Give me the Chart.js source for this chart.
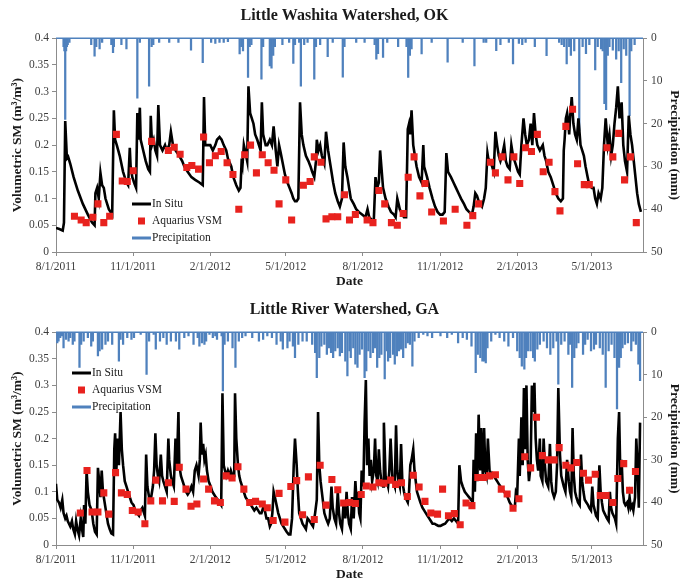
<!DOCTYPE html>
<html lang="en">
<head>
  <meta charset="UTF-8">
  <title>Aquarius VSM vs In Situ</title>
  <script src="https://cdn.jsdelivr.net/npm/chart.js"></script>
  <style>
    body { margin: 0; background: #fff; overflow: hidden; }
    .panel { position: absolute; left: 0; width: 689px; }
    #top { top: 0; height: 290px; }
    #bottom { top: 290px; height: 295px; }
  </style>
</head>
<body>

<div class="panel" id="top"><canvas id="chartTop" width="689" height="290"></canvas></div>
<div class="panel" id="bottom"><canvas id="chartBottom" width="689" height="295"></canvas></div>

<script>
// x values are days since 8/1/2011
const tickDays = [0, 92, 184, 274, 366, 458, 550, 639];
const tickLabels = ["8/1/2011", "11/1/2011", "2/1/2012", "5/1/2012", "8/1/2012", "11/1/2012", "2/1/2013", "5/1/2013"];
const lastDay = 700;

// Little Washita, OK
const washitaInSitu = [[0,.045],[4,.043],[8,.04],[9.5,.055],[11,.245],[13,.175],[14.5,.178],[17,.165],[21,.14],[26,.115],[32,.09],[38,.07],[43,.055],[46,.05],[47,.11],[49,.12],[51,.1],[53,.148],[55,.125],[57,.12],[59,.1],[63,.08],[67,.07],[69,.265],[70.5,.21],[72.5,.2],[76,.18],[80,.15],[84,.13],[86,.125],[88,.195],[89,.16],[91,.14],[93.5,.128],[95.5,.12],[97,.26],[98,.21],[100,.27],[101,.21],[104,.19],[107,.17],[110,.155],[112,.15],[113,.255],[114.5,.2],[116.5,.21],[118.5,.19],[120.5,.18],[122,.275],[124,.2],[127,.19],[130,.2],[132,.19],[135,.2],[137,.225],[139.5,.2],[142.5,.19],[147,.18],[150.5,.17],[153,.16],[157,.15],[161.5,.14],[166,.135],[171,.13],[175,.125],[176.5,.29],[178,.2],[182,.2],[184,.2],[187,.19],[190,.2],[192,.21],[195,.215],[197.5,.21],[200,.2],[203,.19],[205,.175],[209,.16],[211.5,.14],[215,.125],[218,.115],[220,.12],[221.5,.175],[222.5,.165],[224,.2],[226,.185],[228,.17],[229.5,.31],[231.5,.26],[233.5,.25],[235.5,.24],[237.5,.22],[240,.21],[242,.2],[244,.19],[245.5,.28],[247,.22],[250,.2],[252,.2],[255,.21],[257.5,.2],[259.5,.235],[262,.19],[264,.16],[266,.2],[268,.185],[270.5,.165],[273,.145],[276,.13],[278.5,.12],[281,.11],[283,.1],[285,.095],[287,.095],[289,.1],[291,.28],[293,.22],[295,.2],[298,.18],[301,.17],[303.5,.16],[305.5,.15],[308,.14],[310,.17],[311,.21],[313,.19],[315,.2],[317,.18],[320,.165],[322,.225],[324.5,.19],[326.5,.17],[328.5,.15],[330.5,.13],[333,.11],[336,.095],[338.5,.085],[341,.1],[343,.205],[345,.16],[347.5,.14],[349.5,.12],[351.5,.1],[355,.09],[358,.08],[361,.075],[365,.07],[369,.065],[371.5,.08],[373.5,.065],[376.5,.06],[379,.06],[381,.14],[383,.12],[385,.13],[386.5,.19],[388,.16],[390,.12],[393,.1],[396.5,.085],[399.5,.075],[403,.07],[405,.065],[407,.1],[408.5,.09],[410,.08],[413,.07],[415,.065],[417.5,.065],[419.5,.23],[421,.24],[422.5,.22],[424,.265],[426,.2],[428,.18],[430,.16],[433,.14],[436,.13],[438,.2],[439,.16],[442.5,.14],[445.5,.12],[449,.1],[452,.085],[455,.075],[458,.07],[461,.07],[463.5,.075],[465.5,.185],[467.5,.15],[471,.14],[474,.13],[477,.12],[480,.11],[483,.1],[486.5,.09],[489.5,.08],[492.5,.075],[496,.07],[498,.085],[500,.11],[502,.105],[504,.095],[506,.09],[508,.085],[510.5,.1],[512.5,.12],[514.5,.185],[515.5,.175],[518,.17],[520,.16],[522,.15],[524,.225],[526,.2],[528,.18],[530,.17],[532,.18],[534.5,.2],[536.5,.17],[538.5,.16],[541,.155],[543,.2],[545,.18],[547,.17],[549,.16],[551,.15],[553,.145],[555,.2],[557.5,.25],[559.5,.22],[561.5,.2],[564,.21],[566,.24],[568,.2],[570,.26],[572,.22],[574,.2],[577,.19],[580.5,.2],[582.5,.18],[584.5,.17],[587,.15],[590,.14],[593,.125],[596,.11],[599,.1],[602,.095],[604.5,.1],[605.5,.19],[606.5,.21],[608,.25],[609.5,.26],[611,.24],[612,.22],[613,.25],[615,.29],[617,.24],[619,.22],[621,.21],[623,.25],[625.5,.2],[627.5,.19],[629.5,.18],[631.5,.16],[634,.14],[636,.125],[639,.12],[641,.12],[643,.1],[645,.09],[647,.11],[649.5,.1],[651.5,.12],[653.5,.2],[655.5,.25],[658,.2],[660,.22],[662,.18],[664,.2],[666,.24],[668,.27],[670,.31],[672,.25],[674.5,.28],[676.5,.2],[678.5,.17],[681,.15],[683,.255],[685,.22],[687,.2],[689,.17],[691,.14],[693,.11],[695,.09],[697.5,.075]];

const washitaAquarius = [[22,.067],[30,.06],[36,.055],[44,.065],[50,.09],[57,.055],[64,.067],[72,.22],[79,.133],[85,.132],[92,.152],[114,.207],[134,.19],[141,.196],[148,.183],[156,.158],[162,.162],[170,.155],[176,.215],[183,.167],[190,.18],[197,.188],[204,.167],[211,.145],[218,.08],[225,.182],[232,.2],[239,.148],[246,.182],[253,.167],[260,.153],[266,.09],[274,.135],[281,.06],[295,.125],[303,.132],[308,.178],[316,.168],[322,.062],[329,.066],[336,.066],[344,.107],[350,.06],[357,.07],[371,.06],[378,.055],[385,.115],[392,.09],[400,.055],[407,.05],[414,.072],[420,.14],[427,.178],[434,.105],[440,.128],[448,.075],[462,.058],[476,.08],[490,.05],[497,.068],[504,.09],[518,.168],[524,.148],[532,.178],[539,.135],[546,.178],[553,.128],[560,.195],[567,.188],[574,.22],[581,.15],[588,.168],[595,.113],[601,.077],[608,.235],[616,.267],[622,.165],[630,.126],[636,.126],[657,.195],[664,.178],[671,.222],[678,.135],[685,.178],[692,.055]];

const washitaRain = [[9,2],[10,3],[11,19],[12,3],[13,2],[14,1.5],[16,1],[42,1.5],[46,4.2],[48,2],[52,2.5],[55,1],[66,1.5],[68,3.4],[69,2],[78,1.5],[84,2.5],[97,14],[100,1],[111,11.2],[114,2],[116,1.5],[123,1],[135,1],[146,1],[161,2.8],[175,5.7],[185,1],[190,1.2],[195,1],[200,1],[205,0.8],[219,3.7],[221,2],[223,3],[229,9.2],[231,2],[233,1.5],[245,9.6],[247,2],[255,6.5],[257,7],[259,4],[261,2],[270,1.5],[278,1],[283,5.9],[285,1.5],[290,1],[292,11.2],[296,1.5],[300,1],[308,9.6],[310,2],[315,1.5],[324,4.3],[330,1],[342,9.1],[344,2],[358,1],[368,1],[380,1.5],[382,4.9],[384,3.6],[390,4.5],[395,1],[408,2],[418,2],[420,9.2],[422,4],[424,2.5],[436,3.7],[448,1],[467,5.6],[485,1],[499,6.5],[510,1],[513,1],[525,2.9],[530,1.5],[540,1],[545,6],[552,1.2],[556,1.5],[560,1],[571,2],[585,4.1],[600,1],[603,1.5],[606,2],[609,6],[612,2],[614,4],[618,3],[624,21.6],[628,2],[632,3.6],[636,1.5],[643,7.4],[646,2],[650,2.5],[652,3],[654,15.3],[656,16.7],[658,4],[660,2],[664,2.8],[668,4.9],[671,3],[674,10.4],[677,2.5],[680,4],[684,18.1],[686,3],[690,1.5]];

// Little River, GA
const riverInSitu = [[0,.115],[1.5,.085],[3.5,.08],[5.5,.07],[7.5,.085],[9,.06],[11,.05],[12.5,.055],[14,.045],[15.5,.04],[17,.035],[19,.045],[20.5,.03],[22.5,.02],[24,.045],[25.5,.03],[27.5,.018],[29.5,.05],[31,.03],[32.5,.015],[33.5,.075],[35,.04],[36.5,.14],[38,.1],[40,.075],[42.5,.065],[44.5,.04],[46.5,.025],[48.5,.02],[50,.145],[51.5,.12],[53,.09],[54.5,.14],[56,.1],[58,.08],[60,.06],[62,.04],[64,.03],[66,.022],[68,.02],[69.5,.18],[70.5,.21],[72,.14],[73.5,.2],[75,.15],[77,.25],[78.5,.18],[80,.15],[82,.12],[84,.11],[86,.1],[88,.09],[90,.08],[92.5,.075],[94.5,.065],[96.5,.06],[99,.055],[101,.065],[103,.07],[105,.06],[106,.055],[107.5,.17],[109,.11],[111,.09],[113,.085],[115.5,.11],[117,.14],[118.5,.21],[120,.15],[121.5,.13],[123,.12],[125,.17],[126.5,.13],[128,.12],[130,.11],[132,.1],[134,.2],[135,.16],[137,.13],[138.5,.12],[140.5,.11],[142.5,.2],[144,.14],[146,.25],[147,.15],[149,.13],[151,.12],[153,.11],[155,.1],[157,.095],[159,.1],[161.5,.11],[163.5,.1],[165.5,.14],[167.5,.15],[170,.13],[171.5,.16],[172.5,.23],[174,.17],[175.5,.19],[177,.16],[178.5,.17],[180,.14],[182,.12],[184.5,.11],[186.5,.1],[188.5,.095],[190.5,.09],[193,.085],[195,.08],[197,.075],[198.5,.285],[200,.15],[201.5,.14],[203,.13],[205,.14],[207,.13],[208.5,.14],[210.5,.13],[212.5,.13],[213.5,.285],[215,.2],[217,.15],[218.5,.13],[220,.12],[222,.11],[224,.1],[226,.09],[228,.085],[230,.08],[232.5,.075],[234.5,.07],[236.5,.065],[239,.07],[241,.065],[243,.06],[245,.06],[247,.07],[249,.065],[251,.05],[253,.05],[255,.035],[256.5,.04],[258,.06],[259.5,.1],[261,.09],[263,.075],[265,.06],[267,.05],[269,.04],[271,.035],[273,.03],[275,.025],[277.5,.02],[279.5,.02],[281.5,.05],[283.5,.15],[285,.2],[287,.15],[288.5,.1],[290,.06],[292,.05],[294,.04],[296,.035],[298,.03],[300,.05],[302.5,.045],[304.5,.04],[306.5,.035],[309,.06],[311,.085],[312.5,.25],[314,.15],[315.5,.12],[317,.1],[318.5,.08],[320,.06],[322,.05],[324.5,.04],[326.5,.05],[328.5,.11],[330,.07],[332,.05],[334,.04],[336,.1],[337.5,.06],[339,.04],[341,.03],[343,.08],[345,.05],[346.5,.1],[348,.06],[349.5,.04],[351.5,.03],[353,.09],[355,.05],[357,.12],[358.5,.08],[360,.1],[361.5,.06],[363,.05],[364.5,.14],[366.5,.11],[368,.23],[369.5,.31],[371,.15],[372.5,.2],[374,.13],[375.5,.16],[377,.12],[379,.14],[380.5,.2],[382,.13],[383.5,.12],[385,.18],[386.5,.14],[388,.12],[390,.11],[391,.23],[393,.13],[394.5,.12],[396,.11],[397.5,.14],[399,.2],[401,.13],[402,.12],[404,.11],[405.5,.225],[407,.14],[408.5,.12],[410,.11],[411.5,.19],[413,.12],[415,.1],[416.5,.09],[418,.085],[419.5,.08],[421,.1],[422.5,.15],[424,.16],[426,.18],[427.5,.14],[429,.12],[430.5,.1],[432.5,.09],[434.5,.08],[437,.07],[439,.065],[441,.06],[443,.055],[445,.05],[447,.045],[449,.04],[451.5,.04],[453.5,.038],[456,.036],[458.5,.036],[461,.038],[464,.04],[466.5,.045],[469,.05],[472,.045],[474.5,.05],[477,.045],[479.5,.04],[481,.15],[483,.12],[485,.11],[487.5,.1],[490,.095],[492.5,.09],[495,.085],[497,.08],[498,.16],[499.5,.1],[501,.21],[502.5,.12],[504,.245],[506,.14],[507,.22],[509,.13],[510.5,.22],[512,.14],[513.5,.13],[515,.2],[517,.14],[518.5,.13],[520,.135],[522,.13],[524,.125],[526,.12],[528,.115],[530,.11],[532,.105],[534.5,.1],[536.5,.095],[538.5,.09],[541,.08],[543,.075],[545,.07],[547,.068],[548.5,.1],[550,.095],[552,.2],[553,.13],[555,.24],[556.5,.15],[558,.295],[559.5,.18],[561,.3],[562.5,.16],[564,.12],[566,.15],[567.5,.3],[569,.25],[570.5,.305],[572,.2],[573.5,.16],[575,.14],[577,.2],[578,.13],[580,.12],[581.5,.2],[583,.15],[584.5,.12],[587,.11],[589,.19],[590.5,.12],[592,.1],[594,.09],[596,.1],[597.5,.15],[599,.295],[601,.17],[602.5,.13],[604,.12],[605.5,.11],[607.5,.1],[609.5,.16],[611.5,.12],[613,.1],[614.5,.09],[616,.22],[617.5,.13],[619,.1],[620.5,.09],[622.5,.08],[624.5,.075],[626,.17],[627.5,.12],[629,.1],[630.5,.085],[632.5,.08],[634.5,.075],[636,.07],[638,.065],[639.5,.11],[641,.075],[642.5,.065],[644,.055],[646,.05],[648,.15],[649.5,.1],[651,.08],[652.5,.065],[654,.06],[655.5,.055],[657,.05],[659,.045],[660.5,.1],[662,.07],[663.5,.06],[665,.055],[666.5,.05],[668,.04],[670,.2],[671.5,.25],[673,.13],[674.5,.16],[676,.1],[677.5,.08],[679,.075],[681,.08],[682.5,.07],[684,.09],[685.5,.07],[687,.075],[688.5,.065],[690.5,.09],[692,.2],[693.5,.15],[695,.07],[696.5,.23]];

const riverAquarius = [[29,.06],[37,.14],[43,.062],[50,.062],[57,.098],[63,.058],[71,.136],[78,.098],[85,.095],[91,.065],[98,.062],[106,.04],[113,.083],[119,.122],[127,.083],[134,.117],[141,.082],[147,.146],[155,.105],[161,.073],[168,.077],[176,.124],[182,.105],[189,.083],[196,.08],[203,.13],[210,.126],[217,.147],[224,.105],[231,.08],[238,.082],[246,.077],[252,.07],[259,.046],[266,.097],[273,.043],[280,.11],[287,.121],[294,.057],[301,.128],[308,.048],[315,.15],[322,.075],[329,.123],[336,.104],[343,.079],[350,.08],[357,.078],[364,.095],[370,.111],[378,.109],[385,.117],[391,.116],[399,.122],[405,.114],[412,.117],[419,.091],[426,.131],[433,.109],[440,.082],[447,.06],[455,.058],[461,.105],[468,.055],[475,.059],[482,.038],[489,.079],[496,.074],[503,.127],[510,.127],[517,.13],[524,.132],[531,.105],[538,.096],[545,.069],[552,.087],[559,.166],[566,.145],[573,.24],[580,.168],[587,.16],[594,.16],[600,.183],[608,.15],[614,.145],[621,.155],[629,.135],[635,.122],[643,.133],[649,.093],[656,.093],[664,.08],[670,.125],[677,.153],[684,.103],[691,.138]];

const riverRain = [[1.5,2.5],[3,2.1],[5,1.3],[7,0.9],[9,3.7],[12,1.7],[15,2.1],[17,1.3],[20,2.9],[22,2.1],[28,8.3],[30,2.9],[33,2.1],[38,1.3],[42,3.3],[44,2.1],[50,5.6],[52,4.4],[55,4],[59,2.9],[62,2.1],[67,2.9],[75,6.8],[77,1.7],[80,2.9],[85,1.3],[90,1.7],[93,1.3],[101,0.5],[108,9.9],[111,2.1],[116.5,0.5],[119,4],[124,2.1],[128,1.3],[132,2.9],[137,2.1],[143,2.1],[147,4],[153,1.3],[158,0.9],[164,2.9],[169,1.3],[171,3.3],[174,2.5],[177,2.9],[179,2.1],[183,0.5],[187,1.3],[190,0.9],[192,1.7],[197.5,0.9],[199,13.8],[201,2.9],[205,2.1],[210.5,3.7],[214,8.3],[218,2.1],[222,1.3],[226,0.9],[234,1.3],[242,2.1],[247,1.7],[252,0.9],[257.5,1.3],[263,2.9],[268,2.1],[270.5,4],[276,3.7],[278.5,2.1],[282.5,3.3],[285,6],[289,2.9],[294,2.1],[299,2.1],[305.5,2.9],[309,4.8],[311,10.7],[314,6],[316.5,3.3],[320,2.9],[323,5.2],[325.5,3.7],[328,4.8],[330.5,6],[333,4.4],[336,3.7],[338.5,5.6],[341,4.8],[345,6.8],[347.5,10.3],[350,4.4],[351.5,6],[354.5,3.7],[357,7.5],[359.5,8.3],[362,5.2],[365,4],[368,10.7],[370,9.1],[372.5,4.4],[375,6],[378,4.8],[380.5,3.7],[383,8.3],[385.5,6],[388,5.2],[392,11],[394.5,4.4],[396,6.8],[398.5,6],[402,5.2],[404,7.5],[406.5,5.6],[409,4.4],[411.5,4],[414,6],[417,3.7],[419.5,2.5],[422,2.9],[425,8],[427.5,2.1],[432.5,1.3],[438,0.5],[443,0.9],[448.5,1.3],[458.5,0.9],[466.5,1.3],[472,0.5],[479.5,2.5],[485,1.3],[490,1.7],[495.5,3.3],[500.5,9.5],[503,5.2],[506,6],[508.5,6.8],[510.5,6.8],[512.5,7.2],[514.5,3.7],[519,2.1],[524,0.5],[529,1.3],[534.5,2.1],[539.5,3.3],[545,1.3],[550,4.4],[553,6],[555.5,8],[558.5,8.7],[560.5,6],[563,4.4],[566,4.4],[569,6],[571,6.8],[574,4],[577,2.9],[581.5,2.1],[585.5,3.7],[589.5,5.2],[593,3.7],[597,2.1],[599,12.2],[602.5,2.9],[606.5,2.1],[611,5.2],[613,2.9],[615.5,13],[618,6],[620.5,3.7],[623,2.5],[628.5,5.2],[631,2.9],[634,1.7],[638,4.4],[641.5,4],[644,2.9],[648.5,3.7],[652,5.2],[655.5,13],[659,4.4],[662.5,2.9],[666,6],[669,18],[671.5,8.3],[673.5,6],[675.5,3.7],[678.5,2.9],[682,2.5],[686,4.4],[688.5,2.1],[691.5,2.9],[694.5,7.5],[696.5,11.4]];

const serif = "'Liberation Serif', 'Times New Roman', serif";
const rainColor = "#4f81bd";
const vsmColor = "#e8221e";
const axisGray = "#8c8c8c";
const tickColor = "#3c3c3c";

const toXY = arr => arr.map(p => ({ x: p[0], y: p[1] }));

// blue line along the top of the plot (precipitation zero line)
const rainBaseLine = {
  id: "rainBaseLine",
  beforeDatasetsDraw(chart) {
    const { ctx, chartArea } = chart;
    ctx.save();
    ctx.strokeStyle = rainColor;
    ctx.lineWidth = 1.5;
    ctx.beginPath();
    ctx.moveTo(chartArea.left, chartArea.top);
    ctx.lineTo(chartArea.right, chartArea.top);
    ctx.stroke();
    ctx.restore();
  }
};

// legend drawn inside the plot
const innerLegend = {
  id: "innerLegend",
  afterDraw(chart, args, opts) {
    const ctx = chart.ctx;
    const x = opts.x, y = opts.y, gap = 17;
    ctx.save();
    ctx.font = "11.5px " + serif;
    ctx.fillStyle = "#222";
    ctx.textBaseline = "middle";
    ctx.lineWidth = 3;
    ctx.strokeStyle = "#000";
    ctx.beginPath(); ctx.moveTo(x, y); ctx.lineTo(x + 19, y); ctx.stroke();
    ctx.fillText("In Situ", x + 20, y);
    ctx.fillStyle = vsmColor;
    ctx.fillRect(x + 6, y + gap - 3.5, 7, 7);
    ctx.fillStyle = "#222";
    ctx.fillText("Aquarius VSM", x + 20, y + gap);
    ctx.strokeStyle = rainColor;
    ctx.beginPath(); ctx.moveTo(x, y + 2 * gap); ctx.lineTo(x + 19, y + 2 * gap); ctx.stroke();
    ctx.fillText("Precipitation", x + 20, y + 2 * gap);
    ctx.restore();
  }
};

function makeChart(canvasId, title, inSitu, aquarius, rain, layoutInfo) {
  const ctx = document.getElementById(canvasId).getContext("2d");
  return new Chart(ctx, {
    type: "line",
    data: {
      datasets: [
        { type: "scatter", label: "Aquarius VSM", data: toXY(aquarius), yAxisID: "y",
          pointStyle: "rect", pointRadius: 5, backgroundColor: vsmColor, borderWidth: 0, order: 1 },
        { type: "line", label: "In Situ", data: toXY(inSitu), yAxisID: "y",
          borderColor: "#000", borderWidth: 2.6, pointRadius: 0, tension: 0, order: 2 },
        { type: "bar", label: "Precipitation", data: toXY(rain), yAxisID: "y2",
          backgroundColor: rainColor, barThickness: 1.6, order: 3 }
      ]
    },
    options: {
      responsive: false,
      animation: false,
      layout: { padding: 0 },
      plugins: {
        legend: { display: false },
        tooltip: { enabled: false },
        title: {
          display: true, text: title, color: "#1a1a1a",
          font: { family: serif, size: 16, weight: "bold" },
          padding: { top: layoutInfo.titleTop, bottom: layoutInfo.titleBottom }
        },
        innerLegend: layoutInfo.legend
      },
      scales: {
        x: {
          type: "linear", min: 0, max: lastDay, offset: false,
          afterFit: s => { s.height = layoutInfo.xHeight; },
          afterBuildTicks: s => { s.ticks = tickDays.map(v => ({ value: v })); },
          ticks: {
            autoSkip: false, maxRotation: 0, color: tickColor, padding: 4,
            font: { family: serif, size: 11.5 },
            callback: v => tickLabels[tickDays.indexOf(v)] || ""
          },
          grid: { drawOnChartArea: false, drawTicks: true, tickLength: 4, color: axisGray, offset: false },
          border: { display: true, color: axisGray },
          title: { display: true, text: "Date", color: "#1a1a1a",
            font: { family: serif, size: 13.5, weight: "bold" },
            padding: { top: 0, bottom: layoutInfo.datePad } }
        },
        y: {
          position: "left", min: 0, max: 0.4,
          afterFit: s => { s.width = 56; },
          ticks: { stepSize: 0.05, color: tickColor, padding: 3,
            font: { family: serif, size: 11.5 },
            callback: v => String(Number(v.toFixed(2))) },
          grid: { drawOnChartArea: false, drawTicks: true, tickLength: 4, color: axisGray },
          border: { display: true, color: axisGray },
          title: { display: true, text: "Volumetric SM (m³/m³)", color: "#1a1a1a",
            font: { family: serif, size: 13.5, weight: "bold" },
            padding: { top: 9, bottom: 0 } }
        },
        y2: {
          position: "right", min: 0, max: 50, reverse: true,
          afterFit: s => { s.width = 46; },
          ticks: { stepSize: 10, color: tickColor, padding: 4,
            font: { family: serif, size: 11.5 } },
          grid: { drawOnChartArea: false, drawTicks: true, tickLength: 4, color: axisGray },
          border: { display: true, color: axisGray },
          title: { display: true, text: "Precipitation (mm)", color: "#1a1a1a",
            font: { family: serif, size: 13.5, weight: "bold" },
            padding: { top: 6, bottom: 0 } }
        }
      }
    },
    plugins: [rainBaseLine, innerLegend]
  });
}

makeChart("chartTop", "Little Washita Watershed, OK", washitaInSitu, washitaAquarius, washitaRain,
  { titleTop: 6, titleBottom: 13, xHeight: 38, datePad: 0, legend: { x: 132, y: 204 } });
makeChart("chartBottom", "Little River Watershed, GA", riverInSitu, riverAquarius, riverRain,
  { titleTop: 10, titleBottom: 13, xHeight: 40, datePad: 2, legend: { x: 72, y: 83 } });
</script>

</body>
</html>
